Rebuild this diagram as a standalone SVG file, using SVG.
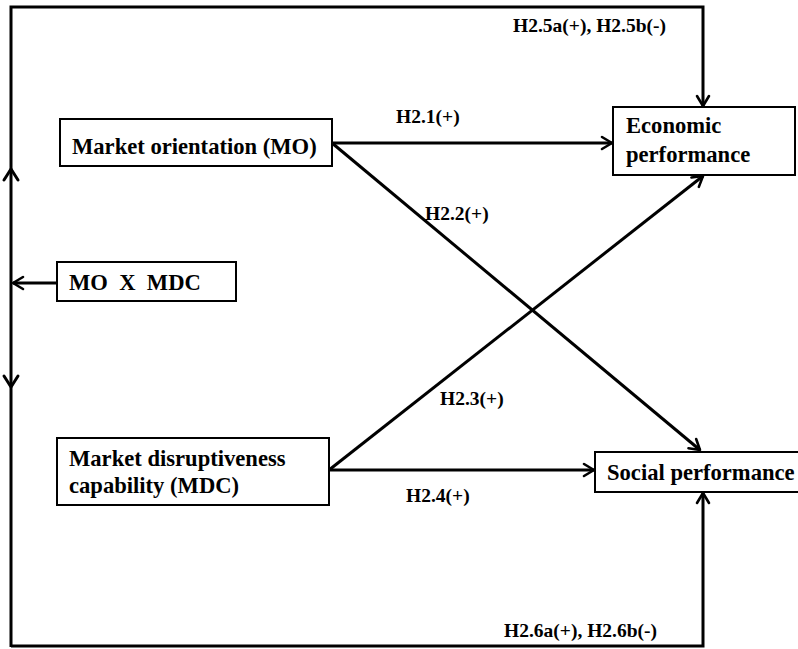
<svg xmlns="http://www.w3.org/2000/svg" width="798" height="649" viewBox="0 0 798 649">
  <style>
    .box { fill: #fff; stroke: #000; stroke-width: 2; }
    .node { font-family: "Liberation Serif", "Times New Roman", serif; font-weight: bold; font-size: 22.6px; fill: #000; }
    .lbl { font-family: "Liberation Serif", "Times New Roman", serif; font-weight: bold; font-size: 19.5px; fill: #000; }
    .wire { fill: none; stroke: #000; stroke-width: 3; stroke-linejoin: miter; }
    .head { fill: none; stroke: #000; stroke-width: 3; stroke-linecap: round; stroke-linejoin: round; }
  </style>
  <defs>
    <marker id="arrow" viewBox="-12 -8 14 16" markerWidth="14" markerHeight="16" refX="0" refY="0" orient="auto" markerUnits="userSpaceOnUse">
      <path d="M-10,-6 L0,0 L-10,6" fill="none" stroke="#000" stroke-width="2.6" stroke-linecap="round" stroke-linejoin="round"/>
    </marker>
  </defs>
  <rect width="798" height="649" fill="#fff"/>

  <g id="connectors">
    <!-- feedback loop: moderation path to economic performance -->
    <polyline class="wire" points="11,647 11,7 703,7 703,106" marker-end="url(#arrow)"/>
    <!-- feedback loop: moderation path to social performance -->
    <polyline class="wire" points="11,646 703,646 703,493" marker-end="url(#arrow)"/>
    <!-- mid-line arrowheads on the left rail -->
    <path class="head" d="M4,180 L11,169 L18,180"/>
    <path class="head" d="M4,376 L11,387 L18,376"/>
    <!-- interaction term into rail -->
    <line class="wire" x1="57" y1="283" x2="13" y2="283" marker-end="url(#arrow)"/>
    <!-- MO paths -->
    <line class="wire" x1="332" y1="143" x2="612" y2="143" marker-end="url(#arrow)"/>
    <line class="wire" x1="332" y1="143" x2="700" y2="450" marker-end="url(#arrow)"/>
    <!-- MDC paths -->
    <line class="wire" x1="329" y1="470" x2="594" y2="470" marker-end="url(#arrow)"/>
    <line class="wire" x1="329" y1="470" x2="703" y2="176" marker-end="url(#arrow)"/>
  </g>

  <g id="mo">
    <rect class="box" x="60" y="119" width="272" height="47"/>
    <text class="node" x="72" y="154">Market orientation (MO)</text>
  </g>

  <g id="mo-x-mdc">
    <rect class="box" x="57" y="262" width="179" height="39"/>
    <text class="node" x="69" y="290" xml:space="preserve">MO  X  MDC</text>
  </g>

  <g id="mdc">
    <rect class="box" x="57" y="438" width="272" height="67"/>
    <text class="node" x="69" y="466">Market disruptiveness</text>
    <text class="node" x="69" y="493">capability (MDC)</text>
  </g>

  <g id="economic">
    <rect class="box" x="613" y="107" width="182" height="68"/>
    <text class="node" x="626" y="133">Economic</text>
    <text class="node" x="626" y="162">performance</text>
  </g>

  <g id="social">
    <rect class="box" x="595" y="452" width="205" height="40"/>
    <text class="node" x="607" y="480">Social performance</text>
  </g>

  <g id="labels">
    <text class="lbl" x="513" y="32">H2.5a(+), H2.5b(-)</text>
    <text class="lbl" x="396" y="123">H2.1(+)</text>
    <text class="lbl" x="425" y="220">H2.2(+)</text>
    <text class="lbl" x="440" y="405">H2.3(+)</text>
    <text class="lbl" x="406" y="502">H2.4(+)</text>
    <text class="lbl" x="504" y="637">H2.6a(+), H2.6b(-)</text>
  </g>
</svg>
